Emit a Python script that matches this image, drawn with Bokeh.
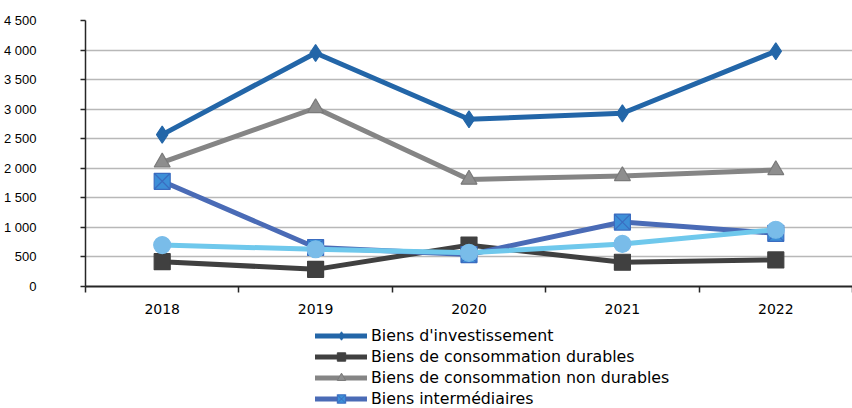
from bokeh.plotting import figure
from bokeh.models import FixedTicker, Legend, LegendItem, Grid
from bokeh.layouts import column
from bokeh.embed import file_html
from bokeh.resources import INLINE

# ---- data ----
years = ["2018", "2019", "2020", "2021", "2022"]
investissement = [2570, 3950, 2830, 2930, 3980]
conso_durables = [420, 290, 700, 410, 450]
conso_non_durables = [2100, 3020, 1810, 1870, 1970]
intermediaires = [1780, 660, 540, 1090, 900]
autres = [700, 630, 570, 720, 960]

y_ticks = [0, 500, 1000, 1500, 2000, 2500, 3000, 3500, 4000, 4500]
y_tick_labels = ["0", "500", "1 000", "1 500", "2 000", "2 500", "3 000", "3 500", "4 000", "4 500"]

names = ["Biens d'investissement", "Biens de consommation durables",
         "Biens de consommation non durables", "Biens intermédiaires"]

styles = [
    dict(line_color="#2366a8", marker="diamond", size=17, fill_color="#2366a8", mline="#2366a8"),
    dict(line_color="#404040", marker="square", size=16, fill_color="#404040", mline="#404040"),
    dict(line_color="#858585", marker="triangle", size=16, fill_color="#8e8e8e", mline="#7a7a7a"),
    dict(line_color="#4a6bb6", marker="square_x", size=16, fill_color="#3d8fd7", mline="#3a6cc0"),
    dict(line_color="#6fc8ec", marker="circle", size=17, fill_color="#79bce9", mline="#79bce9"),
]
series = [investissement, conso_durables, conso_non_durables, intermediaires, autres]

xs = [i + 0.5 for i in range(len(years))]

W = 852
MAIN_H = 319
LEFT = 82
p = figure(width=W, height=MAIN_H, x_range=(0, len(years)), y_range=(0, 4500),
           output_backend="svg", toolbar_location=None,
           min_border_left=LEFT, min_border_right=0, min_border_top=20, min_border_bottom=33)

p.outline_line_color = None
p.background_fill_color = "white"
p.border_fill_color = "white"

p.xgrid.grid_line_color = None
p.ygrid.ticker = FixedTicker(ticks=y_ticks[:-1])
p.ygrid.grid_line_color = "#b8b8b8"
p.ygrid.grid_line_width = 1.5
# darker top border line of the plot area
p.add_layout(Grid(dimension=1, ticker=FixedTicker(ticks=[y_ticks[-1]]),
                  grid_line_color="#5a5a5a", grid_line_width=1.5))

# y axis
p.yaxis.ticker = FixedTicker(ticks=y_ticks)
p.yaxis.major_label_overrides = {t: l for t, l in zip(y_ticks, y_tick_labels)}
p.yaxis.major_label_text_font = "Liberation Sans"
p.yaxis.major_label_text_font_size = "13px"
p.yaxis.major_label_text_color = "black"
p.yaxis.major_label_standoff = 44
p.yaxis.major_tick_out = 5
p.yaxis.major_tick_in = 0
p.yaxis.minor_tick_out = 0
p.yaxis.minor_tick_in = 0
p.yaxis.axis_line_color = "#262626"
p.yaxis.axis_line_width = 1.5
p.yaxis.major_tick_line_color = "#262626"
p.yaxis.major_tick_line_width = 1.5

# x axis: labels at centres, ticks between categories
p.xaxis.ticker = FixedTicker(ticks=xs, minor_ticks=list(range(len(years) + 1)))
p.xaxis.major_label_overrides = {x: y for x, y in zip(xs, years)}
p.xaxis.major_label_text_font = "DejaVu Sans"
p.xaxis.major_label_text_font_size = "14px"
p.xaxis.major_label_text_color = "black"
p.xaxis.major_label_standoff = 11
p.xaxis.major_tick_out = 0
p.xaxis.major_tick_in = 0
p.xaxis.minor_tick_out = 6
p.xaxis.minor_tick_in = 0
p.xaxis.minor_tick_line_color = "#262626"
p.xaxis.minor_tick_line_width = 1.5
p.xaxis.axis_line_color = "#262626"
p.xaxis.axis_line_width = 2

for vals, st in zip(series, styles):
    p.line(xs, vals, line_color=st["line_color"], line_width=5, line_join="round", line_cap="round")
    p.scatter(xs, vals, marker=st["marker"], size=st["size"], fill_color=st["fill_color"],
              line_color=st["mline"], line_width=1.2)

# ---- legend strip below the chart ----
LEG_H = 408 - MAIN_H
q = figure(width=W, height=LEG_H, output_backend="svg", toolbar_location=None,
           x_axis_type=None, y_axis_type=None,
           min_border_left=LEFT, min_border_right=0, min_border_top=0, min_border_bottom=0)
q.outline_line_color = None
q.background_fill_color = "white"
q.border_fill_color = "white"
q.xgrid.visible = False
q.ygrid.visible = False

items = []
for name, vals, st in zip(names, series[:4], styles[:4]):
    lr = q.line(xs, vals, line_color=st["line_color"], line_width=5, line_cap="round", visible=False)
    sr = q.scatter(xs, vals, marker=st["marker"], size=st["size"], fill_color=st["fill_color"],
                   line_color=st["mline"], visible=False)
    items.append(LegendItem(label=name, renderers=[lr, sr]))

ROW = 21
legend = Legend(items=items, location=(230, LEG_H - 6 - ROW * len(items)), orientation="vertical",
                glyph_width=52, glyph_height=ROW, label_height=ROW, spacing=0,
                label_standoff=4, padding=0, margin=0,
                border_line_color=None, background_fill_alpha=0,
                inactive_fill_alpha=0,
                label_text_font="DejaVu Sans", label_text_font_size="15.8px",
                label_text_color="black")
q.add_layout(legend, "center")

layout = column(p, q, spacing=0)
open("out.html", "w").write(file_html(layout, INLINE))
